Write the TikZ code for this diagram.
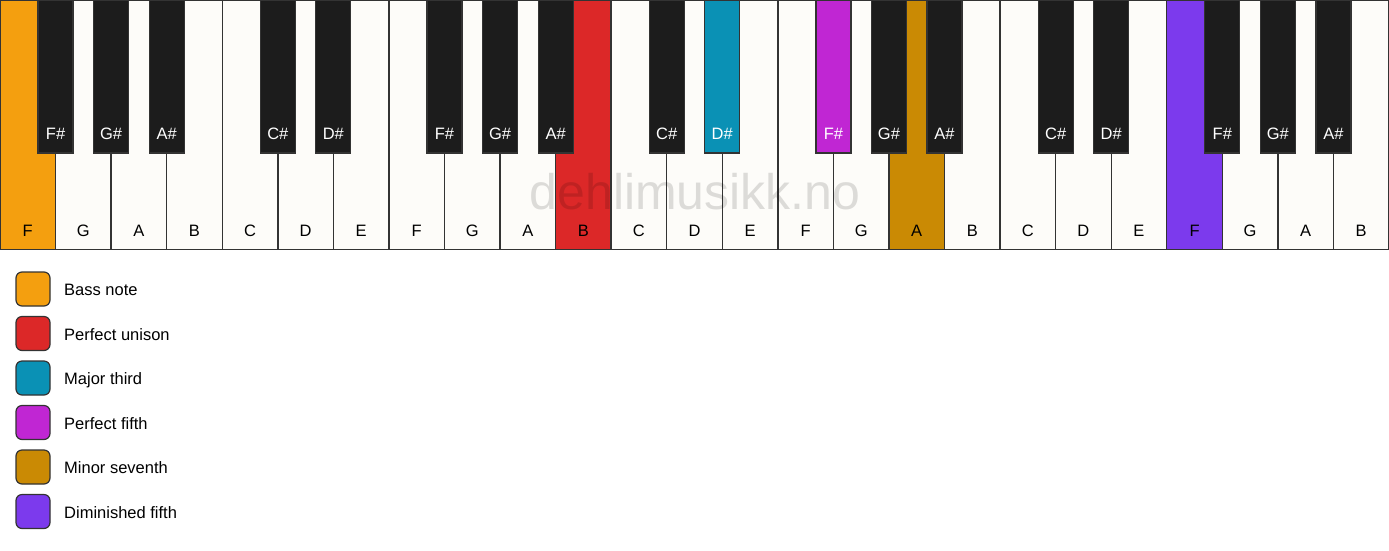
\documentclass[tikz,border=0pt]{standalone}
\usepackage{fontspec}
\setmainfont{Liberation Sans}
\definecolor{keywhite}{HTML}{FDFCF9}
\definecolor{keyblack}{HTML}{1C1C1C}
\definecolor{keyline}{HTML}{333333}
\definecolor{cbass}{HTML}{F49F0F}
\definecolor{cunison}{HTML}{DC2828}
\definecolor{cthird}{HTML}{0A91B5}
\definecolor{cfifth}{HTML}{C026D3}
\definecolor{cseventh}{HTML}{CA8A04}
\definecolor{cdim}{HTML}{7C3AED}
\begin{document}
\begin{tikzpicture}[x=1pt,y=-1pt,
  wkey/.style={draw=keyline, line width=1.4pt, minimum width=55.56pt, minimum height=249.5pt, inner sep=0pt, outer sep=0pt, anchor=north west},
  bkey/.style={draw=keyline, line width=1.2pt, minimum width=35pt, minimum height=153pt, inner sep=0pt, outer sep=0pt, anchor=north},
  wlab/.style={font=\fontsize{16.5}{16.5}\selectfont, text=black, anchor=base, inner sep=0pt},
  blab/.style={font=\fontsize{16.5}{16.5}\selectfont, text=white, anchor=base, inner sep=0pt},
  legbox/.style={draw=keyline, line width=1.2pt, rounded corners=6pt, minimum width=34pt, minimum height=34pt, inner sep=0pt},
  legtext/.style={font=\fontsize{16.5}{16.5}\selectfont, anchor=base west, inner sep=0pt}]
\useasboundingbox (0,0) rectangle (1389,550);
% white keys
\foreach \n/\c [count=\i from 0] in {F/cbass,G/keywhite,A/keywhite,B/keywhite,C/keywhite,D/keywhite,E/keywhite,F/keywhite,G/keywhite,A/keywhite,B/cunison,C/keywhite,D/keywhite,E/keywhite,F/keywhite,G/keywhite,A/cseventh,B/keywhite,C/keywhite,D/keywhite,E/keywhite,F/cdim,G/keywhite,A/keywhite,B/keywhite}{
  \node[wkey, fill=\c] (w\i) at ({\i*55.56},0) {};
}
% black keys
\foreach \b/\n/\c in {1/F\#/keyblack,2/G\#/keyblack,3/A\#/keyblack,5/C\#/keyblack,6/D\#/keyblack,8/F\#/keyblack,9/G\#/keyblack,10/A\#/keyblack,12/C\#/keyblack,13/D\#/cthird,15/F\#/cfifth,16/G\#/keyblack,17/A\#/keyblack,19/C\#/keyblack,20/D\#/keyblack,22/F\#/keyblack,23/G\#/keyblack,24/A\#/keyblack}{
  \node[bkey, fill=\c] (b\b) at ({\b*55.56},0) {};
}
% watermark
\node[font=\fontsize{50}{50}\selectfont, text=black, text opacity=0.13, inner sep=0pt] (wm) at (695,192) {dehlimusikk.no};
% labels
\foreach \n [count=\i from 0] in {F,G,A,B,C,D,E,F,G,A,B,C,D,E,F,G,A,B,C,D,E,F,G,A,B}{
  \node[wlab] (wl\i) at ({\i*55.56+27.78},236) {\n};
}
\foreach \b/\n in {1/F\#,2/G\#,3/A\#,5/C\#,6/D\#,8/F\#,9/G\#,10/A\#,12/C\#,13/D\#,15/F\#,16/G\#,17/A\#,19/C\#,20/D\#,22/F\#,23/G\#,24/A\#}{
  \node[blab] (bl\b) at ({\b*55.56},139) {\n};
}
% legend
\foreach \t/\c [count=\k from 0] in {Bass note/cbass,Perfect unison/cunison,Major third/cthird,Perfect fifth/cfifth,Minor seventh/cseventh,Diminished fifth/cdim}{
  \node[legbox, fill=\c] (lb\k) at (33,{289+44.5*\k}) {};
  \node[legtext] (lt\k) at (64,{295.7+44.5*\k}) {\t};
}
\end{tikzpicture}
\end{document}
